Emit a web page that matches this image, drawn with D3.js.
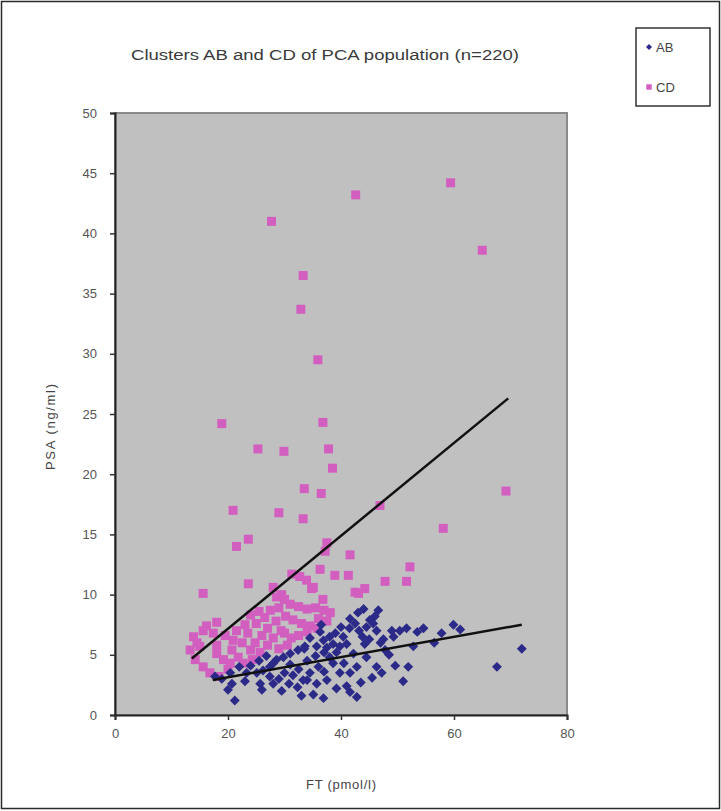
<!DOCTYPE html>
<html>
<head>
<meta charset="utf-8">
<script src="https://cdn.jsdelivr.net/npm/d3@7/dist/d3.min.js"></script>
<style>
  body{margin:0;background:#fff;}
  text{font-family:"Liberation Sans",Arial,sans-serif;}
</style>
</head>
<body>
<div id="chart"></div>
<script>
// donnees
var seriesNames=["AB","CD"];
var seriesColors=["#2c2a88","#d25fbf"];

// [FT, PSA]
var abPoints=[
 [72.0,5.5],[67.6,4.0],[59.9,7.5],[61.1,7.1],[57.8,6.8],[54.6,7.2],[51.6,7.2],[50.4,7.0],[49.3,6.5],[52.8,5.7],
 [51.9,4.0],[49.6,4.1],[51.0,2.8],[46.6,8.7],[46.0,8.2],[45.7,7.6],[46.3,7.0],[45.1,7.9],[44.5,7.3],[41.6,8.0],
 [42.5,7.6],[43.2,7.0],[43.8,6.5],[44.2,5.9],[40.4,6.5],[41.0,5.9],[39.8,5.7],[46.3,4.0],[47.2,3.5],[47.8,5.4],
 [44.5,4.8],[42.2,5.1],[42.8,4.0],[41.6,3.5],[41.6,1.9],[42.8,1.5],[35.1,1.7],[36.9,1.4],[38.6,4.3],[39.8,3.5],
 [37.5,2.9],[34.5,3.5],[33.3,2.9],[35.7,2.6],[34.0,4.5],[35.5,4.9],[37.0,5.2],[33.5,5.5],[36.0,4.0],[38.6,5.9],
 [39.2,5.2],[36.3,6.9],[36.9,6.2],[35.7,5.7],[34.5,6.4],[33.6,5.7],[32.4,5.4],[31.0,5.1],[29.8,4.8],[28.6,4.6],
 [28.0,4.3],[30.0,3.5],[31.5,3.3],[32.5,3.8],[30.8,2.6],[32.3,2.3],[34.0,2.9],[29.0,3.0],[37.0,3.6],[38.0,4.8],
 [40.5,4.3],[17.7,3.2],[18.9,3.0],[20.4,3.5],[20.7,2.6],[21.2,1.2],[23.3,3.5],[25.1,3.5],[26.2,3.7],[27.4,4.0],
 [25.7,2.6],[26.0,2.1],[27.4,3.2],[28.0,2.6],[22.0,4.0],[24.0,4.1],[25.5,4.5],[26.8,4.9],[40.0,7.3],[39.0,6.8],
 [38.0,6.5],[37.5,5.6],[43.0,8.5],[44.0,8.8],[45.0,6.3],[48.5,5.0],[49.0,7.0],[53.5,6.9],[56.5,6.0],[47.5,6.3],
 [41.0,2.4],[39.2,2.2],[33.0,1.6],[31.0,4.2],[43.5,2.7],[45.5,3.1],[20.0,2.1],[23.0,2.8],[41.5,7.2],[36.5,7.5],
 [29.5,2.0],[47.0,6.0]
];

var cdPoints=[
 [27.7,41.0],[42.6,43.2],[59.4,44.2],[65.0,38.6],[33.3,36.5],[32.9,33.7],[35.9,29.5],[18.9,24.2],[36.8,24.3],[25.3,22.1],
 [29.9,21.9],[37.8,22.1],[38.5,20.5],[33.5,18.8],[36.5,18.4],[20.9,17.0],[29.0,16.8],[33.3,16.3],[46.9,17.4],[69.2,18.6],
 [58.1,15.5],[23.6,14.6],[21.5,14.0],[37.5,14.3],[37.2,13.6],[41.6,13.3],[52.2,12.3],[51.6,11.1],[15.6,10.1],[23.6,10.9],
 [28.0,10.6],[31.3,11.7],[36.3,12.1],[38.9,11.6],[41.3,11.6],[34.8,10.5],[43.1,10.1],[44.2,10.5],[47.8,11.1],[33.9,11.2],
 [32.7,11.5],[35.1,10.6],[42.5,10.2],[29.5,10.0],
 [13.9,6.5],[15.6,7.0],[17.4,6.8],[13.3,5.4],[15.0,5.7],[14.2,4.6],[15.6,4.0],[16.8,3.5],[14.5,6.0],[16.2,7.4],
 [18.0,7.7],[18.4,3.2],[18.0,5.1],[19.2,4.6],[18.0,5.8],[20.9,6.2],[20.7,5.4],[21.8,4.8],[22.7,4.3],[20.4,4.3],
 [19.5,6.6],[21.5,7.0],[22.5,6.0],[23.0,7.5],[24.0,8.3],[25.0,7.6],[25.5,8.6],[26.5,8.1],[27.5,8.7],[27.0,7.2],
 [26.0,6.6],[24.8,6.0],[24.0,5.4],[25.7,5.2],[27.0,5.8],[28.0,6.4],[28.5,7.8],[29.0,8.9],[24.3,4.6],[23.5,6.8],
 [28.6,9.8],[29.4,7.0],[30.0,9.6],[31.0,9.2],[32.5,9.0],[34.0,8.8],[35.5,8.9],[37.0,8.7],[38.1,8.5],[30.2,8.2],
 [31.5,7.9],[33.0,7.6],[34.5,7.4],[36.0,8.0],[37.5,7.8],[30.0,6.8],[31.2,6.4],[32.5,6.6],[34.0,6.9],[35.8,7.2],
 [29.0,5.5],[30.5,5.8],[36.8,9.6],[20.0,3.8]
];

// droites de tendance (extremites)
var trendAB=[[17.3,2.9],[72.0,7.5]];
var trendCD=[[13.6,4.7],[69.6,26.3]];

var xTicks=[0,20,40,60,80];
var yTicks=[0,5,10,15,20,25,30,35,40,45,50];

var chartTitle="Clusters  AB and CD of PCA population (n=220)";
var xTitle="FT  (pmol/l)";
var yTitle="PSA  (ng/ml)";

function scatter(params){

  var width=721,
      height=811,
      anchor=params.anchor||"#chart",
      svg=d3.select(anchor).append("svg").attr("width",width).attr("height",height);

  // zone du graphique
  var plot={left:115,right:567,top:113,bottom:715};

  var x=d3.scaleLinear().domain([0,80]).range([plot.left,plot.right]);
  var y=d3.scaleLinear().domain([0,50]).range([plot.bottom,plot.top]);

  // cadre exterieur
  svg.append("rect")
    .attr("x",1.5).attr("y",1.5)
    .attr("width",width-3).attr("height",height-4)
    .attr("fill","#fff").attr("stroke","#2a2a2a").attr("stroke-width",1.5);

  // fond gris
  svg.append("rect")
    .attr("x",plot.left).attr("y",plot.top)
    .attr("width",plot.right-plot.left).attr("height",plot.bottom-plot.top)
    .attr("fill","#c0c0c0").attr("stroke","#8a8a8a").attr("stroke-width",2);

  // titre
  svg.append("text")
    .attr("x",325).attr("y",60)
    .attr("text-anchor","middle")
    .attr("font-size",14).attr("fill","#3a3a3a")
    .attr("textLength",388).attr("lengthAdjust","spacingAndGlyphs")
    .text(chartTitle);

  // axes
  var yAxis=d3.axisLeft(y).tickValues(yTicks).tickSize(5).tickPadding(13).tickFormat(d3.format("d"));
  var xAxis=d3.axisBottom(x).tickValues(xTicks).tickSize(5).tickPadding(9).tickFormat(d3.format("d"));

  var gy=svg.append("g").attr("transform","translate("+plot.left+",0)").call(yAxis);
  var gx=svg.append("g").attr("transform","translate(0,"+plot.bottom+")").call(xAxis);

  [gx,gy].forEach(function(g){
    g.select(".domain").attr("stroke","#222").attr("stroke-width",2);
    g.selectAll(".tick line").attr("stroke","#333").attr("stroke-width",1.5);
    g.selectAll(".tick text")
      .attr("font-family","'Liberation Sans',Arial,sans-serif")
      .attr("font-size",13).attr("fill","#555");
  });

  // series
  var diamond=d3.symbol().type(d3.symbolSquare).size(49);
  var square=d3.symbol().type(d3.symbolSquare).size(81);

  svg.append("g").selectAll("path")
    .data(cdPoints).enter().append("path")
    .attr("d",square)
    .attr("transform",function(d){return "translate("+x(d[0])+","+y(d[1])+")";})
    .attr("fill",seriesColors[1]);

  svg.append("g").selectAll("path")
    .data(abPoints).enter().append("path")
    .attr("d",diamond)
    .attr("transform",function(d){return "translate("+x(d[0])+","+y(d[1])+") rotate(45)";})
    .attr("fill",seriesColors[0]);

  // tendances
  var line=d3.line().x(function(d){return x(d[0]);}).y(function(d){return y(d[1]);});
  [trendAB,trendCD].forEach(function(t){
    svg.append("path").attr("d",line(t))
      .attr("fill","none").attr("stroke","#111").attr("stroke-width",2.5);
  });

  // titres des axes
  svg.append("text")
    .attr("x",341).attr("y",789)
    .attr("text-anchor","middle")
    .attr("font-size",13).attr("fill","#444")
    .attr("textLength",70).attr("lengthAdjust","spacing")
    .text(xTitle);

  svg.append("text")
    .attr("transform","translate(55,427) rotate(-90)")
    .attr("text-anchor","middle")
    .attr("font-size",13).attr("fill","#444")
    .attr("textLength",86).attr("lengthAdjust","spacing")
    .text(yTitle);

  // legende
  var leg=svg.append("g").attr("transform","translate(636,28)");
  leg.append("rect").attr("width",74).attr("height",78)
    .attr("fill","#fff").attr("stroke","#333").attr("stroke-width",1.5);

  seriesNames.forEach(function(name,i){
    var row=leg.append("g").attr("transform","translate(0,"+(19+i*40)+")");
    row.append("path")
      .attr("d",d3.symbol().type(d3.symbolSquare).size(i===0?18:30))
      .attr("transform","translate(13,0)"+(i===0?" rotate(45)":""))
      .attr("fill",seriesColors[i]);
    row.append("text").attr("x",20).attr("y",5)
      .attr("font-size",13).attr("fill","#444")
      .text(name);
  });
}

scatter({anchor:"#chart"});
</script>
</body>
</html>
